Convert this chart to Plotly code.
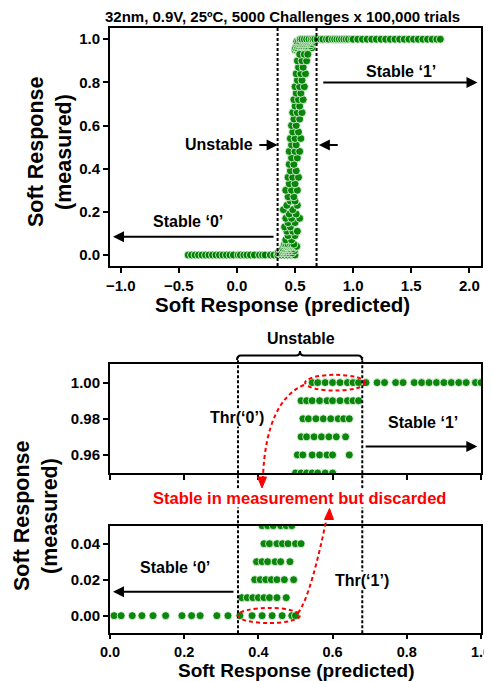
import plotly.graph_objects as go

# ---------------- data ----------------
thr0 = 0.35   # Thr('0')
thr1 = 0.685  # Thr('1')

# measured soft response = 0.00
x_row_000 = [-0.42, -0.39, -0.36, -0.33, -0.30, -0.27, -0.24, -0.21, -0.18, -0.15,
             -0.12, -0.09, -0.06, -0.03, 0.011, 0.03, 0.06, 0.086, 0.116, 0.15,
             0.194, 0.22, 0.243, 0.288, 0.318, 0.35, 0.383, 0.41, 0.437, 0.464, 0.49, 0.50]
x_row_001 = [0.355, 0.37, 0.385, 0.40, 0.415, 0.43, 0.45, 0.475]
x_row_002 = [0.39, 0.405, 0.42, 0.435, 0.45, 0.47, 0.495]
x_row_003 = [0.395, 0.41, 0.425, 0.445, 0.46, 0.485]
x_row_004 = [0.415, 0.43, 0.45, 0.465, 0.48, 0.50, 0.515]
x_row_005 = [0.41, 0.425, 0.44, 0.46, 0.475, 0.49]
x_row_095 = [0.50, 0.515, 0.53, 0.545, 0.56, 0.58, 0.60]
x_row_096 = [0.505, 0.52, 0.545, 0.565, 0.585, 0.60, 0.645]
x_row_097 = [0.515, 0.53, 0.55, 0.57, 0.59, 0.61, 0.635]
x_row_098 = [0.52, 0.535, 0.555, 0.575, 0.595, 0.615, 0.63, 0.645]
x_row_099 = [0.515, 0.53, 0.545, 0.565, 0.585, 0.60, 0.62, 0.64, 0.655, 0.67]
x_row_100 = [0.545, 0.56, 0.58, 0.60, 0.62, 0.64, 0.655, 0.67, 0.69, 0.72, 0.74,
             0.77, 0.79, 0.82, 0.84, 0.86, 0.88, 0.90, 0.92, 0.94, 0.96, 0.985, 1.0,
             1.04, 1.08, 1.12, 1.16, 1.20, 1.24, 1.28, 1.32, 1.36, 1.40, 1.44, 1.48,
             1.52, 1.56, 1.60, 1.64, 1.68, 1.72, 1.75]
row_levels = [0.00, 0.01, 0.02, 0.03, 0.04, 0.05, 0.95, 0.96, 0.97, 0.98, 0.99, 1.00]
row_x = [x_row_000, x_row_001, x_row_002, x_row_003, x_row_004, x_row_005,
         x_row_095, x_row_096, x_row_097, x_row_098, x_row_099, x_row_100]

# unstable cluster in between
mid_x = [0.42, 0.47, 0.44, 0.50, 0.43, 0.48, 0.52, 0.41, 0.46, 0.44, 0.50, 0.42, 0.47,
         0.54, 0.45, 0.51, 0.40, 0.48, 0.43, 0.52, 0.46, 0.50, 0.44, 0.49, 0.42, 0.47,
         0.52, 0.45, 0.50, 0.44, 0.48, 0.53, 0.46, 0.51, 0.45, 0.49, 0.47, 0.52, 0.45,
         0.50, 0.54, 0.47, 0.51, 0.46, 0.50, 0.55, 0.48, 0.53, 0.47, 0.51, 0.49, 0.54,
         0.48, 0.52, 0.56, 0.50, 0.54, 0.49, 0.53, 0.57, 0.51, 0.55, 0.50, 0.54, 0.58,
         0.52, 0.56, 0.51, 0.55, 0.59, 0.53, 0.57, 0.52, 0.56, 0.60, 0.54, 0.58, 0.61]
mid_y = [0.07, 0.07, 0.09, 0.09, 0.11, 0.11, 0.11, 0.13, 0.13, 0.15, 0.15, 0.17, 0.17,
         0.17, 0.19, 0.19, 0.21, 0.21, 0.23, 0.23, 0.25, 0.25, 0.27, 0.27, 0.30, 0.30,
         0.30, 0.33, 0.33, 0.36, 0.36, 0.36, 0.39, 0.39, 0.42, 0.42, 0.45, 0.45, 0.48,
         0.48, 0.48, 0.51, 0.51, 0.54, 0.54, 0.54, 0.57, 0.57, 0.60, 0.60, 0.63, 0.63,
         0.66, 0.66, 0.66, 0.69, 0.69, 0.72, 0.72, 0.72, 0.75, 0.75, 0.78, 0.78, 0.78,
         0.81, 0.81, 0.84, 0.84, 0.84, 0.87, 0.87, 0.90, 0.90, 0.90, 0.93, 0.93, 0.93]

pred, meas = [], []
for lvl, xs in zip(row_levels, row_x):
    pred += xs
    meas += [lvl] * len(xs)
pred += mid_x
meas += mid_y

top_xticks = [-1.0, -0.5, 0.0, 0.5, 1.0, 1.5, 2.0]
top_yticks = [0.0, 0.2, 0.4, 0.6, 0.8, 1.0]
bot_xticks = [0.0, 0.2, 0.4, 0.6, 0.8, 1.0]
low_yticks = [0.00, 0.02, 0.04]
up_yticks = [0.96, 0.98, 1.00]

# ---------------- styling ----------------
OFF = 8                      # page body margin
W, H = 492 - OFF, 681 - OFF  # figure fills the rest of the window
FONT = "Liberation Sans, Arial, sans-serif"
def PX(x): return (x - OFF) / W
def PY(y): return 1 - (y - OFF) / H

marker = dict(color="rgb(0,128,0)", size=8, opacity=0.95,
              line=dict(color="rgba(235,250,235,0.85)", width=1))

fig = go.Figure()
for xa, ya in [("x", "y"), ("x2", "y2"), ("x3", "y3")]:
    fig.add_trace(go.Scatter(x=pred, y=meas, mode="markers", marker=marker,
                             xaxis=xa, yaxis=ya, showlegend=False, hoverinfo="skip"))

tickfont = dict(family=FONT, size=15, color="black", weight="bold")
def ax(**kw):
    d = dict(showline=True, linecolor="black", linewidth=2, mirror=True,
             ticks="outside", ticklen=5, tickwidth=2, tickcolor="black",
             showgrid=False, zeroline=False, tickfont=tickfont, automargin=False)
    d.update(kw)
    return d

xdom = [PX(110), PX(481)]
fig.update_layout(
    template="none",
    width=W, height=H, margin=dict(l=0, r=0, t=0, b=0, pad=0),
    plot_bgcolor="white", paper_bgcolor="white",
    xaxis=ax(domain=xdom, range=[-1.092, 2.10], anchor="y",
             tickvals=top_xticks, tickformat=".1f"),
    yaxis=ax(domain=[PY(266), PY(28)], range=[-0.051, 1.052], anchor="x",
             tickvals=top_yticks, tickformat=".1f"),
    xaxis2=ax(domain=xdom, range=[0, 1], anchor="y2", ticklen=4,
              tickfont=dict(family=FONT, size=14.5, color="black", weight="bold"),
              tickvals=bot_xticks, tickformat=".1f"),
    yaxis2=ax(domain=[PY(633.3), PY(525.7)], range=[-0.0098, 0.05], anchor="x2",
              tickvals=low_yticks, tickformat=".2f"),
    xaxis3=ax(domain=xdom, range=[0, 1], anchor="y3", matches="x2",
              tickvals=bot_xticks, showticklabels=False),
    yaxis3=ax(domain=[PY(473), PY(364)], range=[0.95, 1.0103], anchor="x3",
              tickvals=up_yticks, tickformat=".2f"),
)

shapes = []
dash_blk = dict(color="black", width=2, dash="3px,2px")
# top chart thresholds
for t in (thr0, thr1):
    shapes.append(dict(type="line", xref="x", yref="y domain", x0=t, x1=t, y0=0, y1=1,
                       line=dash_blk, layer="above"))
# bottom chart thresholds spanning both panels
for t in (thr0 - 0.005, thr1 - 0.005):
    shapes.append(dict(type="line", xref="x2", yref="paper", x0=t, x1=t,
                       y0=PY(633.3), y1=PY(357), line=dash_blk, layer="above"))

# brace above "Unstable"
bx0, bx1, bm, by = 237, 362, 300, 355.5
brace = (f"M {PX(bx0)},{PY(360)} Q {PX(bx0)},{PY(by)} {PX(bx0+4)},{PY(by)} "
         f"L {PX(bm-4)},{PY(by)} Q {PX(bm)},{PY(by)} {PX(bm)},{PY(351)} "
         f"Q {PX(bm)},{PY(by)} {PX(bm+4)},{PY(by)} "
         f"L {PX(bx1-4)},{PY(by)} Q {PX(bx1)},{PY(by)} {PX(bx1)},{PY(360)}")
shapes.append(dict(type="path", xref="paper", yref="paper", path=brace,
                   line=dict(color="black", width=2)))

red_dash = dict(color="red", width=2, dash="4px,3px")
# ellipses
shapes.append(dict(type="circle", xref="x3", yref="y3", x0=0.526, x1=0.688,
                   y0=0.9956, y1=1.0043, line=red_dash, layer="above"))
shapes.append(dict(type="circle", xref="x2", yref="y2", x0=0.345, x1=0.512,
                   y0=-0.0041, y1=0.0043, line=red_dash, layer="above"))
# red connecting curves
c1 = (f"M {PX(304)},{PY(385)} C {PX(280)},{PY(395)} {PX(265)},{PY(425)} "
      f"{PX(263)},{PY(477)}")
c2 = (f"M {PX(298)},{PY(613)} C {PX(308)},{PY(600)} {PX(318)},{PY(560)} "
      f"{PX(326.5)},{PY(519)}")
for c in (c1, c2):
    shapes.append(dict(type="path", xref="paper", yref="paper", path=c, line=red_dash))
h1 = f"M {PX(262)},{PY(488)} L {PX(257.5)},{PY(477)} L {PX(266.5)},{PY(477)} Z"
h2 = f"M {PX(329.5)},{PY(508.5)} L {PX(324.5)},{PY(519.5)} L {PX(333.5)},{PY(519.5)} Z"
for h in (h1, h2):
    shapes.append(dict(type="path", xref="paper", yref="paper", path=h,
                       fillcolor="red", line=dict(color="red", width=1)))
fig.update_layout(shapes=shapes)

ann = []
def txt(text, x, y, xref="paper", yref="paper", size=16, color="black", angle=0, bg=None):
    d = dict(text=text, x=x, y=y, xref=xref, yref=yref, showarrow=False,
             xanchor="center", yanchor="middle", textangle=angle, borderpad=0,
             font=dict(family=FONT, size=size, color=color, weight="bold"))
    if bg:
        d["bgcolor"] = bg
    ann.append(d)

def arrow(x, y, axx, ayy, xref, yref):
    ann.append(dict(text="", x=x, y=y, ax=axx, ay=ayy, xref=xref, yref=yref,
                    axref=xref, ayref=yref, showarrow=True, arrowhead=2,
                    arrowsize=1.1, arrowwidth=2, arrowcolor="black", standoff=0,
                    startstandoff=0))

# titles
txt("32nm, 0.9V, 25ºC, 5000 Challenges x 100,000 trials", PX(282), PY(17), size=15)
txt("Soft Response", PX(36), PY(152), size=21.5, angle=-90)
txt("(measured)", PX(64), PY(152), size=21.5, angle=-90)
txt("Soft Response (predicted)", PX(282), PY(304), size=20.5)
txt("Soft Response", PX(22), PY(516), size=21.5, angle=-90)
txt("(measured)", PX(50), PY(516), size=21.5, angle=-90)
txt("Soft Response (predicted)", PX(296), PY(670.5), size=19)

# top chart labels
txt("Stable ‘1’", 1.41, 0.85, "x", "y")
arrow(2.07, 0.80, 0.73, 0.80, "x", "y")
txt("Unstable", -0.15, 0.51, "x", "y")
arrow(thr0, 0.51, 0.18, 0.51, "x", "y")
arrow(0.705, 0.51, 0.88, 0.51, "x", "y")
txt("Stable ‘0’", -0.42, 0.154, "x", "y")
arrow(-1.066, 0.085, 0.328, 0.085, "x", "y")

# bottom chart labels
txt("Unstable", PX(301), PY(338.5))
txt("Thr(‘0’)", 0.342, 0.9805, "x3", "y3", bg="white")
txt("Stable ‘1’", 0.843, 0.9777, "x3", "y3")
arrow(0.99, 0.9646, 0.685, 0.9646, "x3", "y3")
txt("Thr(‘1’)", 0.678, 0.0193, "x2", "y2", bg="white")
txt("Stable ‘0’", 0.175, 0.027, "x2", "y2")
arrow(0.008, 0.0133, 0.337, 0.0133, "x2", "y2")
txt("Stable in measurement but discarded", PX(299), PY(497.5), size=16.5,
    color="red", bg="white")

fig.update_layout(annotations=ann)
fig.write_html("out.html")
